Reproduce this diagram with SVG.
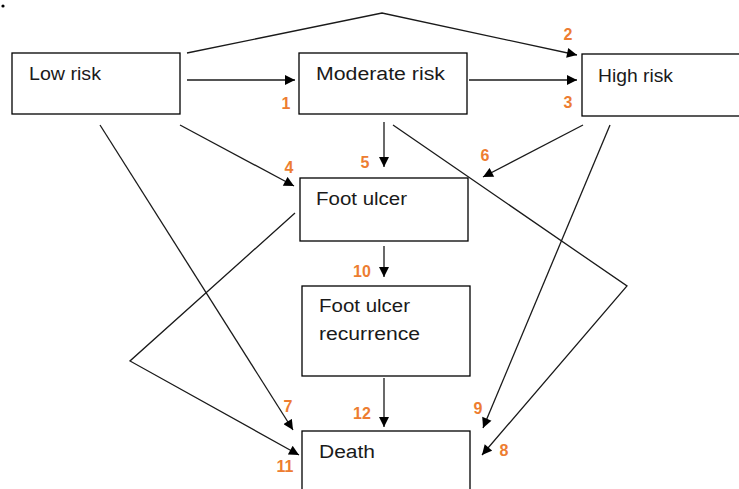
<svg xmlns="http://www.w3.org/2000/svg" width="739" height="489" viewBox="0 0 739 489">
<style>
.box{fill:#fff;stroke:#000;stroke-width:1.3}
.t{font-family:"Liberation Sans",Arial,sans-serif;font-size:18px;fill:#1a1a1a}
.n{font-family:"Liberation Sans",Arial,sans-serif;font-size:16px;font-weight:bold;fill:#ED7D31}
.c{fill:none;stroke:#1a1a1a;stroke-width:1.3}
</style>
<defs>
<marker id="arr" viewBox="0 0 10 10" refX="10" refY="5" markerWidth="11" markerHeight="10" orient="auto" markerUnits="userSpaceOnUse"><path d="M0,0 L10,5 L0,10 z" fill="#000"/></marker>
</defs>
<rect width="739" height="489" fill="#fff"/>
<circle cx="3" cy="6" r="1.6" fill="#000"/>
<g id="low"><rect class="box" x="12" y="53" width="168" height="61"/><text class="t" x="29" y="80" textLength="72" lengthAdjust="spacingAndGlyphs">Low risk</text></g>
<g id="moderate"><rect class="box" x="299" y="53" width="168" height="61"/><text class="t" x="316" y="80" textLength="129" lengthAdjust="spacingAndGlyphs">Moderate risk</text></g>
<g id="high"><rect class="box" x="582" y="54" width="170" height="62"/><text class="t" x="598" y="82" textLength="75" lengthAdjust="spacingAndGlyphs">High risk</text></g>
<g id="ulcer"><rect class="box" x="300" y="178" width="168" height="63"/><text class="t" x="316" y="205" textLength="91" lengthAdjust="spacingAndGlyphs">Foot ulcer</text></g>
<g id="recurrence"><rect class="box" x="302" y="286" width="168" height="90"/><text class="t" x="319" y="312" textLength="91" lengthAdjust="spacingAndGlyphs">Foot ulcer</text><text class="t" x="319" y="340" textLength="101" lengthAdjust="spacingAndGlyphs">recurrence</text></g>
<g id="death"><rect class="box" x="302" y="431" width="168" height="70"/><text class="t" x="319" y="458" textLength="56" lengthAdjust="spacingAndGlyphs">Death</text></g>
<g id="connectors">
<line class="c" x1="187" y1="80" x2="295" y2="80" marker-end="url(#arr)"/>
<polyline class="c" points="187,53 382,13 577,55" marker-end="url(#arr)"/>
<line class="c" x1="469" y1="80" x2="577" y2="80" marker-end="url(#arr)"/>
<line class="c" x1="180" y1="125" x2="294" y2="186" marker-end="url(#arr)"/>
<line class="c" x1="384" y1="122" x2="384" y2="167" marker-end="url(#arr)"/>
<line class="c" x1="583" y1="125" x2="483" y2="177" marker-end="url(#arr)"/>
<line class="c" x1="100" y1="125" x2="293" y2="430" marker-end="url(#arr)"/>
<polyline class="c" points="393,125 627,286 482,455" marker-end="url(#arr)"/>
<line class="c" x1="610" y1="125" x2="483" y2="428" marker-end="url(#arr)"/>
<line class="c" x1="384" y1="246" x2="384" y2="277" marker-end="url(#arr)"/>
<polyline class="c" points="295,213 130,361 299,455" marker-end="url(#arr)"/>
<line class="c" x1="384" y1="378" x2="384" y2="427" marker-end="url(#arr)"/>
</g>
<g id="labels">
<text class="n" x="286" y="109" text-anchor="middle">1</text>
<text class="n" x="568" y="40" text-anchor="middle">2</text>
<text class="n" x="568" y="108" text-anchor="middle">3</text>
<text class="n" x="289" y="173" text-anchor="middle">4</text>
<text class="n" x="365" y="168" text-anchor="middle">5</text>
<text class="n" x="485" y="161" text-anchor="middle">6</text>
<text class="n" x="288" y="412" text-anchor="middle">7</text>
<text class="n" x="504" y="456" text-anchor="middle">8</text>
<text class="n" x="478" y="414" text-anchor="middle">9</text>
<text class="n" x="362" y="277" text-anchor="middle">10</text>
<text class="n" x="285" y="472" text-anchor="middle">11</text>
<text class="n" x="362" y="419" text-anchor="middle">12</text>
</g>
</svg>
